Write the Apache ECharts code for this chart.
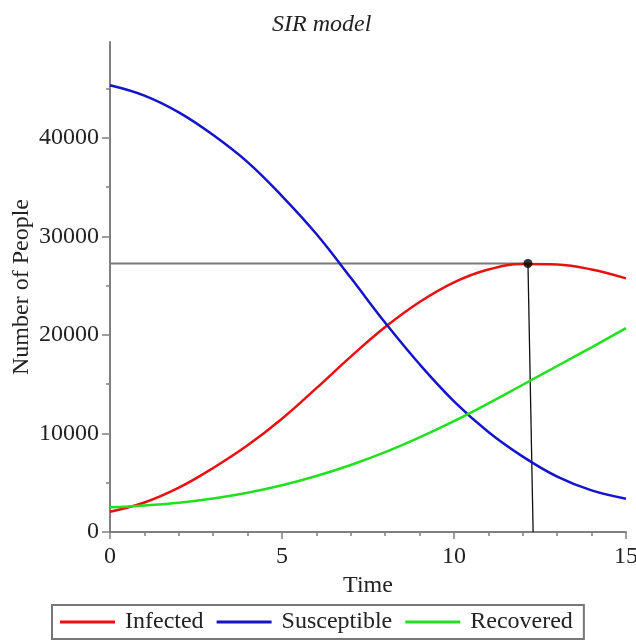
<!DOCTYPE html>
<html>
<head>
<meta charset="utf-8">
<script src="https://cdn.jsdelivr.net/npm/echarts@6/dist/echarts.min.js"></script>
<style>html,body{margin:0;padding:0;background:#fff;}#c{width:636px;height:640px;}</style>
</head>
<body>
<div id="c"></div>
<script>
const times = [0, 1, 2, 3, 4, 5, 6, 7, 8, 9, 10, 11, 12, 13, 14, 15];
const infected = [2050, 2990, 4500, 6500, 8800, 11500, 14600, 17800, 20800, 23350, 25350, 26650, 27200, 27150, 26650, 25750];
const susceptible = [45350, 44300, 42600, 40300, 37550, 34100, 30250, 25800, 21240, 17030, 13270, 10150, 7650, 5620, 4220, 3380];
const recovered = [2500, 2700, 2970, 3400, 3980, 4740, 5680, 6800, 8100, 9600, 11250, 13050, 14950, 16850, 18750, 20700];
const yTicks = [0, 10000, 20000, 30000, 40000];
const peakPoint = [12.15, 27250];
const peakFoot = [12.3, 0];
const seriesNames = ['Infected', 'Susceptible', 'Recovered'];

const FONT = 'Liberation Serif';
const TXT = '#222';
const AX = '#808080';
const pairs = (ys) => times.map((t, i) => [t, ys[i]]);

const chart = echarts.init(document.getElementById('c'), null, {renderer: 'canvas'});
chart.setOption({
  animation: false,
  backgroundColor: '#fff',
  title: {
    text: 'SIR model', left: 272, top: 13, padding: 0,
    textStyle: {fontFamily: FONT, fontStyle: 'italic', fontWeight: 'normal', fontSize: 24, color: TXT}
  },
  grid: {left: 110, right: 10, top: 42, bottom: 108, containLabel: false, outerBoundsMode: 'none'},
  legend: {
    data: seriesNames, left: 52, top: 605, orient: 'horizontal',
    icon: 'rect', itemWidth: 55, itemHeight: 3, itemGap: 13,
    padding: [5, 11, 5, 8], borderColor: '#777', borderWidth: 2,
    textStyle: {fontFamily: FONT, fontSize: 24, color: TXT, padding: [0, 0, 0, 5]}
  },
  xAxis: {
    type: 'value', min: 0, max: 15, interval: 5,
    name: 'Time', nameLocation: 'middle', nameGap: 42, nameMoveOverlap: false,
    nameTextStyle: {fontFamily: FONT, fontSize: 24, color: TXT},
    axisLine: {lineStyle: {color: AX, width: 2}},
    axisTick: {length: 7, lineStyle: {color: AX, width: 1.5}},
    minorTick: {show: true, splitNumber: 5, length: 4, lineStyle: {color: AX, width: 1.5}},
    splitLine: {show: false}, minorSplitLine: {show: false},
    axisLabel: {margin: 13, fontFamily: FONT, fontSize: 24, color: TXT, formatter: (v) => String(v)}
  },
  yAxis: {
    type: 'value', min: 0, max: 49740, interval: 10000,
    name: 'Number of People', nameLocation: 'middle', nameGap: 76, nameMoveOverlap: false,
    nameTextStyle: {fontFamily: FONT, fontSize: 24, color: TXT},
    axisLine: {show: true, lineStyle: {color: AX, width: 2}},
    axisTick: {show: true, length: 8, customValues: yTicks, lineStyle: {color: AX, width: 1.5}},
    minorTick: {show: true, splitNumber: 2, length: 4, lineStyle: {color: AX, width: 1.5}},
    splitLine: {show: false}, minorSplitLine: {show: false},
    axisLabel: {margin: 11, customValues: yTicks, fontFamily: FONT, fontSize: 24, color: TXT, formatter: (v) => String(v)}
  },
  series: [
    {name: 'peakH', type: 'line', data: [[0, peakPoint[1]], peakPoint], symbol: 'none',
     lineStyle: {color: '#7a7a7a', width: 2}, z: 1, silent: true},
    {name: 'peakV', type: 'line', data: [peakPoint, peakFoot], symbol: 'none',
     lineStyle: {color: '#111', width: 1.3}, z: 1, silent: true},
    {name: 'Infected', type: 'line', data: pairs(infected), smooth: 0.4, symbol: 'none',
     itemStyle: {color: '#e81010'}, lineStyle: {color: '#e81010', width: 2.5}, z: 3},
    {name: 'Susceptible', type: 'line', data: pairs(susceptible), smooth: 0.4, symbol: 'none',
     itemStyle: {color: '#1414cc'}, lineStyle: {color: '#1414cc', width: 2.5}, z: 3},
    {name: 'Recovered', type: 'line', data: pairs(recovered), smooth: 0.4, symbol: 'none',
     itemStyle: {color: '#20e020'}, lineStyle: {color: '#20e020', width: 2.5}, z: 3},
    {name: 'peak', type: 'scatter', data: [peakPoint], symbol: 'circle', symbolSize: 9,
     itemStyle: {color: '#000'}, z: 5, silent: true}
  ]
});
</script>
</body>
</html>
